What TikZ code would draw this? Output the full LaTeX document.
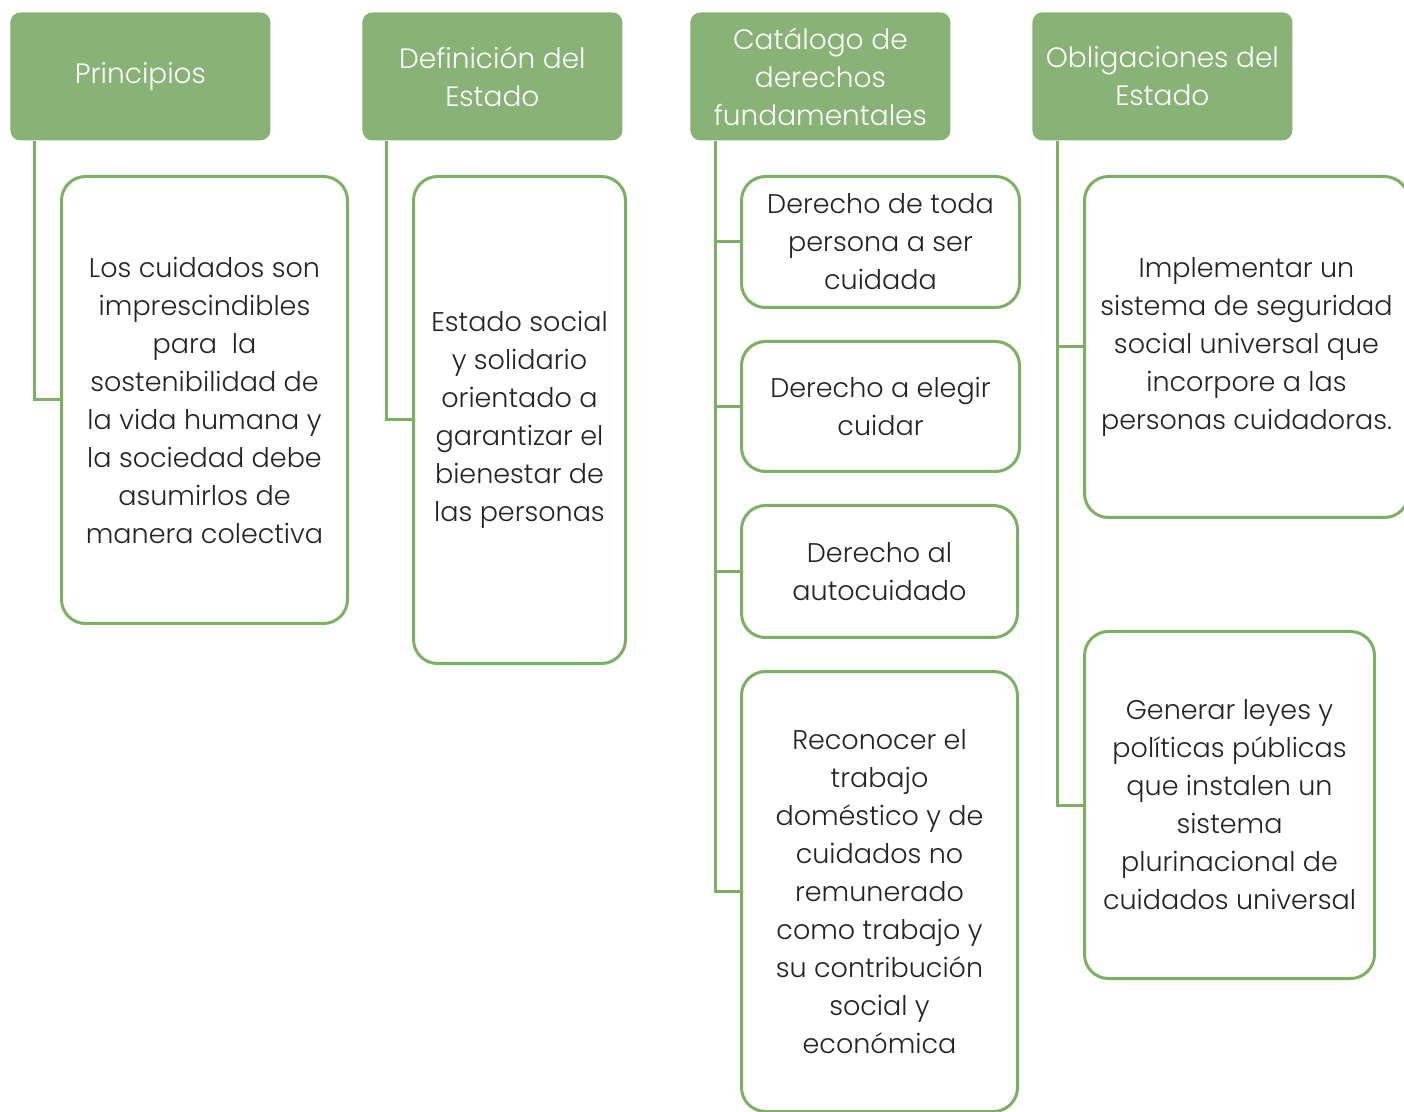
\documentclass[tikz,border=0pt]{standalone}
\usepackage{fontspec}
\setmainfont{Poppins}[UprightFont=* Light]
\usetikzlibrary{positioning}
\definecolor{headgreen}{RGB}{137,178,119}
\definecolor{linegreen}{RGB}{124,176,98}
\definecolor{bodytext}{RGB}{35,35,35}
\tikzset{
  head/.style={fill=headgreen, rounded corners=5pt, text=white, align=center,
    minimum width=130pt, minimum height=64pt, anchor=north west, inner sep=0pt,
    font=\fontsize{14}{19}\selectfont},
  card/.style={draw=linegreen, line width=1.5pt, rounded corners=12pt, fill=white,
    align=center, text=bodytext, anchor=north west, inner sep=0pt,
    font=\fontsize{13.5}{19}\selectfont},
  link/.style={draw=linegreen, line width=1.5pt},
}
\begin{document}
\begin{tikzpicture}[x=0.5pt,y=-0.5pt]
  \useasboundingbox (0,0) rectangle (1404,1112);
  % column headers
  \node[head] (principios) at (10,12) {Principios};
  \node[head] (definicion) at (362,12) {Definición del\\Estado};
  \node[head] (catalogo) at (690,12) {Catálogo de\\derechos\\fundamentales};
  \node[head] (obligaciones) at (1032,12) {Obligaciones del\\Estado};
  % first two columns
  \node[card, minimum width=143pt, minimum height=223.5pt] (cuidados) at (60,175)
    {Los cuidados son\\imprescindibles\\para \ la\\sostenibilidad de\\la vida humana y\\la sociedad debe\\asumirlos de\\manera colectiva};
  \node[card, minimum width=106pt, minimum height=243.5pt] (social) at (412,175)
    {Estado social\\y solidario\\orientado a\\garantizar el\\bienestar de\\las personas};
  % derechos
  \node[card, minimum width=139pt, minimum height=65.5pt] (toda) at (740,175)
    {Derecho de toda\\persona a ser\\cuidada};
  \node[card, minimum width=139pt, minimum height=65pt] (elegir) at (740,340)
    {Derecho a elegir\\cuidar};
  \node[card, minimum width=138pt, minimum height=66pt] (auto) at (740,504)
    {Derecho al\\autocuidado};
  \node[card, minimum width=138pt, minimum height=220pt] (reconocer) at (740,670)
    {Reconocer el\\trabajo\\doméstico y de\\cuidados no\\remunerado\\como trabajo y\\su contribución\\social y\\económica};
  % obligaciones
  \node[card, minimum width=162pt, minimum height=170.5pt] (seguridad) at (1083,175)
    {Implementar un\\sistema de seguridad\\social universal que\\incorpore a las\\personas cuidadoras.};
  \node[card, minimum width=145pt, minimum height=173.5pt] (leyes) at (1083,630)
    {Generar leyes y\\políticas públicas\\que instalen un\\sistema\\plurinacional de\\cuidados universal};
  % connectors
  \draw[link] ([xshift=12pt]principios.south west) |- (cuidados.west);
  \draw[link] ([xshift=12pt]definicion.south west) |- (social.west);
  \foreach \d in {toda,elegir,auto,reconocer}
    \draw[link] ([xshift=12.5pt]catalogo.south west) |- (\d.west);
  \foreach \o in {seguridad,leyes}
    \draw[link] ([xshift=12.5pt]obligaciones.south west) |- (\o.west);
\end{tikzpicture}
\end{document}
